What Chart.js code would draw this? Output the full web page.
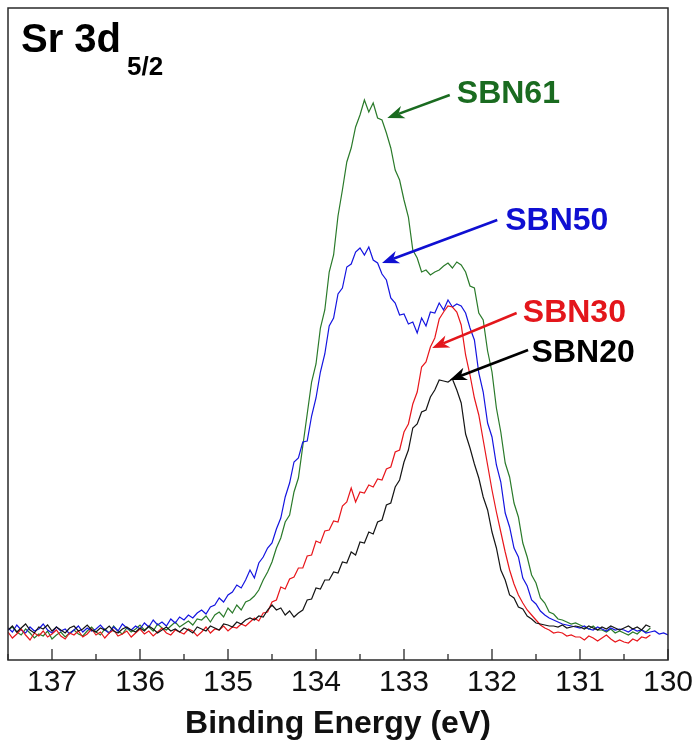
<!DOCTYPE html>
<html><head><meta charset="utf-8">
<script src="https://cdn.jsdelivr.net/npm/chart.js@4.4.1/dist/chart.umd.min.js"></script>
<style>html,body{margin:0;padding:0;background:#fff}</style>
</head><body>
<canvas id="c" width="694" height="742"></canvas>
<script>
// Binding energy grid (eV): first point and step, same for all series
const energyStart = 137.5;
const energyStep = 0.05;

const tickValues = [130, 131, 132, 133, 134, 135, 136, 137];
const minorTickValues = [130.5, 131.5, 132.5, 133.5, 134.5, 135.5, 136.5, 137.5];

const seriesNames = ['SBN61', 'SBN50', 'SBN30', 'SBN20'];

const sbn61 = [
30,33,28,25,31,27,22,26,24,29,
21,25,28,23,27,30,26,24,29,33,
28,25,31,27,34,29,26,32,28,31,
35,30,33,29,36,32,30,34,38,33,
36,39,35,41,40,44,38,45,48,43,
52,47,55,50,58,60,64,70,80,88,
98,112,122,138,145,168,182,214,246,278,
296,332,350,388,405,444,470,498,512,533,
545,560,548,557,542,540,527,512,490,480,
460,443,410,402,388,390,385,388,390,394,
397,392,398,395,388,374,372,347,340,309,
288,252,228,197,183,157,143,117,103,85,
77,62,57,48,46,41,40,38,36,37,
35,33,31,34,30,30,28,31,27,29,
27,25,28,26,30,28,32];

const sbn50 = [
32,28,35,30,27,33,29,31,36,30,
27,33,29,31,26,30,34,28,32,29,
31,35,30,27,33,29,36,32,30,34,
31,37,33,40,35,38,34,41,37,43,
40,45,42,47,50,46,53,55,62,58,
65,68,75,72,80,90,82,97,103,112,
117,131,142,163,177,198,202,218,219,244,
262,288,306,334,342,366,372,393,396,408,
412,405,413,400,397,386,380,362,357,345,
346,336,338,327,342,334,348,347,357,350,
360,353,356,354,347,332,320,287,268,237,
223,195,178,147,133,112,103,82,74,60,
56,49,45,42,40,38,36,35,34,33,
32,34,31,30,33,31,29,32,30,31,
30,28,31,29,30,27,28,29,26,27,25];

const sbn30 = [
28,22,26,31,25,20,27,24,29,23,
26,30,24,21,27,25,29,23,26,31,
25,28,22,27,30,24,26,29,23,27,
31,26,29,24,28,32,27,25,30,28,
26,31,29,24,28,33,27,31,30,34,
29,33,32,36,34,38,42,39,47,48,
58,60,73,71,81,83,92,92,104,105,
119,117,129,130,139,138,154,158,172,158,
168,167,175,173,181,180,191,193,208,210,
228,236,256,268,293,298,313,322,341,348,
354,353,348,335,305,285,262,245,220,195,
170,148,128,108,90,76,65,57,50,45,
40,35,32,30,27,28,27,24,25,23,
23,20,24,22,19,22,25,21,18,20,
18,17,21,19,23,22,25];

const sbn20 = [
30,34,28,32,36,30,27,33,31,35,
29,33,30,27,32,34,29,31,35,30,
28,32,30,34,29,27,31,33,30,28,
32,29,34,31,27,30,33,29,31,28,
32,30,27,33,31,29,34,32,30,36,
35,33,38,36,40,42,40,44,43,50,
55,50,52,45,49,43,47,50,60,61,
72,71,80,80,88,87,98,97,108,105,
118,117,128,126,138,140,155,157,173,180,
198,210,232,236,248,250,263,270,280,279,
278,281,270,257,226,212,196,182,163,150,
128,112,90,80,65,62,53,51,44,41,
37,36,35,34,34,33,35,32,33,34,
33,31,34,32,30,33,31,34,32,30,
32,34,31,33,30,35,33];

const lineColors = ['#2a7a2a', '#1414e0', '#e8161b', '#151515'];
const labelColors = ['#1a6b20', '#0f0fd2', '#e3161b', '#000000'];

// annotation anchors in data units (energy eV, intensity a.u.)
const annotations = [
  {text: 'SBN61', textE: 132.40, textV: 557, fromE: 132.48, fromV: 565, toE: 133.19, toV: 542},
  {text: 'SBN50', textE: 131.85, textV: 430, fromE: 131.94, fromV: 440, toE: 133.25, toV: 397},
  {text: 'SBN30', textE: 131.65, textV: 338, fromE: 131.72, fromV: 347, toE: 132.68, toV: 312},
  {text: 'SBN20', textE: 131.55, textV: 298, fromE: 131.59, fromV: 310, toE: 132.48, toV: 280}
];

function toPoints(arr) {
  return arr.map((v, i) => ({x: +(energyStart - energyStep * i).toFixed(2), y: v}));
}

const allSeries = [sbn61, sbn50, sbn30, sbn20];
const datasets = allSeries.map((s, k) => ({
  label: seriesNames[k],
  data: toPoints(s),
  showLine: true,
  borderColor: lineColors[k],
  borderWidth: 1.2,
  pointRadius: 0,
  tension: 0,
  fill: false
})).reverse();

const FONT = '"Liberation Sans", Arial, Helvetica, sans-serif';

function drawArrow(ctx, x1, y1, x2, y2, color) {
  const ang = Math.atan2(y2 - y1, x2 - x1);
  const L = 17, W = 6.5, N = 12;
  const c = Math.cos(ang), s = Math.sin(ang);
  const nx = x2 - N * c, ny = y2 - N * s;
  ctx.strokeStyle = color; ctx.fillStyle = color; ctx.lineWidth = 2.6;
  ctx.beginPath(); ctx.moveTo(x1, y1); ctx.lineTo(nx, ny); ctx.stroke();
  ctx.beginPath();
  ctx.moveTo(x2, y2);
  ctx.lineTo(x2 - L * c + W * s, y2 - L * s - W * c);
  ctx.lineTo(nx, ny);
  ctx.lineTo(x2 - L * c - W * s, y2 - L * s + W * c);
  ctx.closePath(); ctx.fill();
}

const framePlugin = {
  id: 'frame',
  afterDatasetsDraw(chart) {
    const {ctx, chartArea: a, scales: {x, y}} = chart;
    ctx.save();
    ctx.strokeStyle = '#2a2a2a'; ctx.lineWidth = 1.5;
    ctx.strokeRect(a.left, a.top, a.right - a.left, a.bottom - a.top);
    ctx.lineWidth = 1.3;
    ctx.beginPath();
    tickValues.forEach(v => { const px = x.getPixelForValue(v); ctx.moveTo(px, a.bottom); ctx.lineTo(px, a.bottom - 11); });
    minorTickValues.forEach(v => { const px = x.getPixelForValue(v); ctx.moveTo(px, a.bottom); ctx.lineTo(px, a.bottom - 6); });
    ctx.stroke();
    ctx.fillStyle = '#000'; ctx.textBaseline = 'alphabetic'; ctx.textAlign = 'left';
    ctx.font = 'bold 40px ' + FONT;
    ctx.fillText('Sr 3d', a.left + 13, a.top + 44);
    ctx.font = 'bold 26px ' + FONT;
    ctx.fillText('5/2', a.left + 119, a.top + 67);
    annotations.forEach((an, k) => {
      const col = labelColors[k];
      drawArrow(ctx, x.getPixelForValue(an.fromE), y.getPixelForValue(an.fromV),
                x.getPixelForValue(an.toE), y.getPixelForValue(an.toV), col);
      ctx.fillStyle = col;
      ctx.font = 'bold 32px ' + FONT;
      ctx.fillText(an.text, x.getPixelForValue(an.textE), y.getPixelForValue(an.textV));
    });
    ctx.restore();
  }
};

new Chart(document.getElementById('c'), {
  type: 'scatter',
  data: {datasets},
  options: {
    responsive: false,
    animation: false,
    layout: {padding: {left: 8, right: 26, top: 8, bottom: 0}},
    plugins: {legend: {display: false}, tooltip: {enabled: false}},
    scales: {
      x: {
        type: 'linear', reverse: true, min: 130, max: 137.5,
        afterBuildTicks: s => { s.ticks = tickValues.map(v => ({value: v})); },
        grid: {display: false, drawTicks: false},
        border: {display: false},
        ticks: {font: {family: FONT, size: 30, lineHeight: 1}, color: '#111', padding: 8, callback: v => String(v)},
        title: {display: true, text: 'Binding Energy (eV)', color: '#111',
                font: {family: FONT, size: 32, weight: 'bold', lineHeight: 1}, padding: {top: 2, bottom: 2}}
      },
      y: {display: false, min: 0, max: 652}
    }
  },
  plugins: [framePlugin]
});
</script>
</body></html>
